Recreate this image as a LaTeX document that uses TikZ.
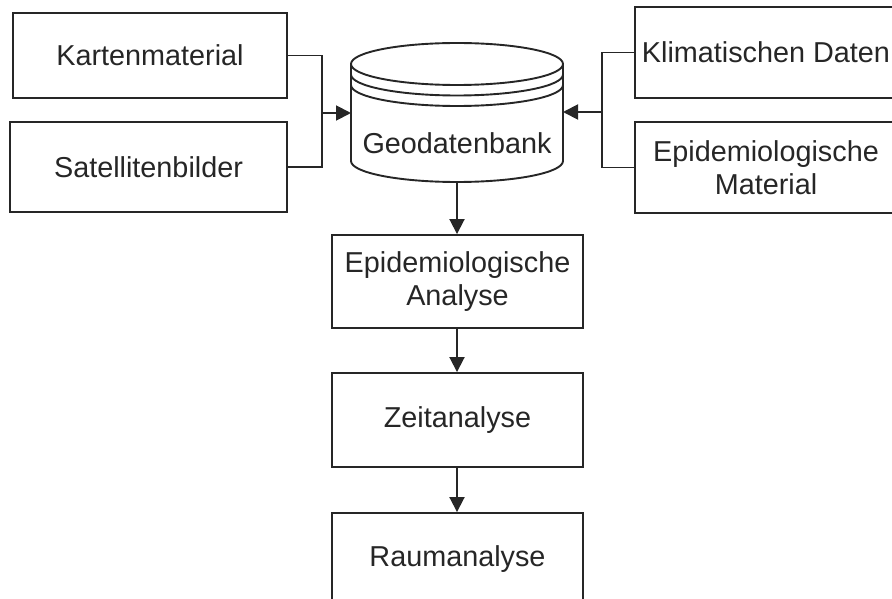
\documentclass[tikz,border=0pt]{standalone}
\usepackage{fontspec}
\setmainfont{Liberation Sans}
\usetikzlibrary{arrows.meta}
\definecolor{ink}{HTML}{262626}
\begin{document}
\begin{tikzpicture}[x=1pt,y=1pt,
  box/.style={draw=ink, line width=1.9pt, align=center, text=ink,
    font=\fontsize{28.8}{33}\selectfont, inner sep=0pt},
  lbl/.style={align=center, text=ink, font=\fontsize{28.8}{33}\selectfont, inner sep=0pt},
  conn/.style={draw=ink, line width=1.9pt},
  arr/.style={conn, -{Triangle[length=15pt,width=15pt]}}]
\useasboundingbox (0,0) rectangle (892,-599);
% left inputs
\node[box, minimum width=274pt, minimum height=85pt] (kart) at (150,-55.5) {Kartenmaterial};
\node[box, minimum width=277pt, minimum height=90pt] (sat) at (148.5,-167) {Satellitenbilder};
% right inputs
\node[box, minimum width=262pt, minimum height=91pt] (klim) at (766,-52.5) {Klimatischen Daten};
\node[box, minimum width=262pt, minimum height=91pt] (epim) at (766,-167.5) {Epidemiologische\\Material};
% database cylinder
\draw[conn, fill=white] (351,-64) -- (351,-161) arc[start angle=180, end angle=360, x radius=106, y radius=21] -- (563,-64);
\draw[conn] (457,-64) ellipse [x radius=106, y radius=21];
\draw[conn] (351,-74.5) arc[start angle=180, end angle=360, x radius=106, y radius=21];
\draw[conn] (351,-85) arc[start angle=180, end angle=360, x radius=106, y radius=21];
\node[lbl] (geo) at (457,-143) {Geodatenbank};
\coordinate (geoW) at (351,-113);
\coordinate (geoE) at (563,-112);
\coordinate (geoS) at (457,-182);
% process boxes
\node[box, minimum width=251pt, minimum height=93pt] (ana) at (457.5,-281.5) {Epidemiologische\\Analyse};
\node[box, minimum width=251pt, minimum height=94pt] (zeit) at (457.5,-420) {Zeitanalyse};
\node[box, minimum width=251pt, minimum height=92pt] (raum) at (457.5,-559) {Raumanalyse};
% connectors
\coordinate (jl) at (322,-113);
\coordinate (jr) at (602,-112);
\draw[conn] (kart.east) -| (jl);
\draw[conn] (sat.east) -| (jl);
\draw[arr] (jl) -- (geoW);
\draw[conn] (klim.west) -| (jr);
\draw[conn] (epim.west) -| (jr);
\draw[arr] (jr) -- (geoE);
\draw[arr] (geoS) -- (geoS |- ana.north);
\draw[arr] (ana.south -| geoS) -- (zeit.north -| geoS);
\draw[arr] (zeit.south -| geoS) -- (raum.north -| geoS);
\end{tikzpicture}
\end{document}
